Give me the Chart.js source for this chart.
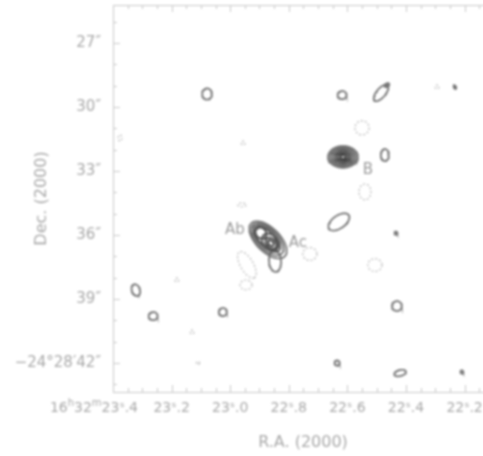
<!DOCTYPE html>
<html>
<head>
<meta charset="utf-8">
<script src="https://cdn.jsdelivr.net/npm/chart.js@4"></script>
<style>
html, body { margin: 0; padding: 0; background: #fff; overflow: hidden; }
#wrap { width: 500px; height: 456px; }
canvas { filter: blur(0.8px); }
</style>
</head>
<body>
<div id="wrap"><canvas id="map"></canvas></div>
<script>
// axis ticks (R.A. seconds of 16h32m, Dec arcsec of -24d28m)
const raTicks = [23.4, 23.2, 23.0, 22.8, 22.6, 22.4, 22.2];
const raTickLabels = ['16ʰ32ᵐ23ˢ.4', '23ˢ.2', '23ˢ.0', '22ˢ.8', '22ˢ.6', '22ˢ.4', '22ˢ.2'];
const raMinor = [23.35, 23.30, 23.25, 23.15, 23.10, 23.05, 22.95, 22.90, 22.85, 22.75, 22.70, 22.65,
                 22.55, 22.50, 22.45, 22.35, 22.30, 22.25, 22.15];
const decTicks = [27, 30, 33, 36, 39, 42];
const decTickLabels = ['27″', '30″', '33″', '36″', '39″', '−24°28′42″'];
const decMinor = [26, 28, 29, 31, 32, 34, 35, 37, 38, 40, 41, 43];

// contours: centre, semi-axes (arcsec), position angle on screen (deg), level (<0 = negative)
const cRA  = [23.079, 22.618, 22.485, 22.465, 22.233, 22.472,
              22.615, 22.615, 22.615, 22.615, 22.615, 22.615, 22.615,
              22.629,
              22.871, 22.873, 22.875, 22.878, 22.895, 22.863, 22.861, 22.861,
              22.847, 23.322, 23.263, 23.025, 22.431, 22.635, 22.420, 22.209, 22.434,
              22.550, 22.540, 22.728, 22.506, 22.943, 22.946, 22.960, 22.956, 23.376, 23.182, 23.130, 23.110, 22.294];
const cDec = [29.39, 29.44, 29.34, 28.97, 29.06, 32.25,
              32.34, 32.34, 32.34, 32.34, 32.34, 32.34, 32.34,
              35.39,
              36.23, 36.20, 36.17, 36.14, 35.91, 36.33, 36.38, 36.38,
              37.22, 38.58, 39.80, 39.61, 39.33, 42.00, 42.47, 42.42, 35.91,
              30.98, 33.98, 36.89, 37.41, 37.40, 38.34, 34.59, 31.69, 31.45, 38.11, 40.55, 42.00, 29.06];
const cMaj = [0.26, 0.21, 0.47, 0.12, 0.09, 0.28,
              0.70, 0.60, 0.50, 0.40, 0.31, 0.22, 0.12,
              0.56,
              1.10, 0.95, 0.80, 0.66, 0.28, 0.45, 0.30, 0.16,
              0.51, 0.28, 0.21, 0.19, 0.23, 0.12, 0.28, 0.07, 0.07,
              0.33, 0.37, 0.33, 0.33, 0.70, 0.28, 0.19, 0.09, 0.14, 0.09, 0.09, 0.07, 0.09];
const cMin = [0.23, 0.19, 0.21, 0.07, 0.05, 0.19,
              0.51, 0.44, 0.37, 0.29, 0.22, 0.15, 0.08,
              0.30,
              0.56, 0.48, 0.40, 0.33, 0.23, 0.32, 0.21, 0.11,
              0.28, 0.19, 0.19, 0.19, 0.23, 0.12, 0.14, 0.07, 0.07,
              0.33, 0.28, 0.30, 0.30, 0.30, 0.23, 0.09, 0.09, 0.09, 0.09, 0.09, 0.07, 0.09];
const cPA  = [90, 0, -50, -30, 60, 90,
              0, 0, 0, 0, 0, 0, 0,
              -35,
              45, 45, 45, 45, 45, 45, 45, 45,
              85, 70, 0, 0, 0, 0, -15, 0, 0,
              0, 90, 0, 0, 60, 0, 0, 0, 90, 0, 0, 0, 0];
const cLevel = [1, 1, 1, 1, 1, 1,
                1, 2, 3, 4, 5, 6, 7,
                1,
                1, 2, 3, 4, 5, 5, 6, 7,
                1, 1, 1, 1, 1, 1, 1, 1, 1,
                -1, -1, -1, -1, -1, -1, -1, -1, -1, -1, -1, -1, -1];

// source labels
const labelText = ['Ab', 'Ac', 'B'];
const labelRA = [22.984, 22.769, 22.530];
const labelDec = [35.77, 36.375, 32.95];

const RA_ARCSEC = 15 * Math.cos(24.475 * Math.PI / 180);

function outline(i) {
    const th = cPA[i] * Math.PI / 180;
    const pts = [];
    for (let k = 0; k <= 48; k++) {
        const t = k / 48 * 2 * Math.PI;
        const dx = cMaj[i] * Math.cos(t) * Math.cos(th) - cMin[i] * Math.sin(t) * Math.sin(th);
        const dy = cMaj[i] * Math.cos(t) * Math.sin(th) + cMin[i] * Math.sin(t) * Math.cos(th);
        pts.push({ x: cRA[i] - dx / RA_ARCSEC, y: cDec[i] + dy });
    }
    return pts;
}

const datasets = cRA.map((_, i) => {
    const neg = cLevel[i] < 0;
    const g = neg ? 175 : Math.max(60, 120 - cLevel[i] * 9);
    return {
        data: outline(i),
        showLine: true,
        pointRadius: 0,
        borderColor: `rgb(${g},${g},${g})`,
        borderWidth: neg ? 1.1 : 1.7,
        borderDash: neg ? [2, 2] : [],
        tension: 0
    };
});

// draw "16h32m23s.4" with small raised h / m, right end at xr
function drawLongLabel(ctx, text, xr, yc) {
    const parts = [];
    let buf = '';
    for (const ch of text) {
        if (ch === 'ʰ' || ch === 'ᵐ') {
            if (buf) parts.push([buf, false]);
            parts.push([ch === 'ʰ' ? 'h' : 'm', true]);
            buf = '';
        } else buf += ch;
    }
    if (buf) parts.push([buf, false]);
    const fontN = '14px "DejaVu Sans"', fontS = '10px "DejaVu Sans"';
    let w = 0;
    parts.forEach(([t, sup]) => { ctx.font = sup ? fontS : fontN; w += ctx.measureText(t).width; });
    let cx = xr - w;
    ctx.textAlign = 'left';
    parts.forEach(([t, sup]) => {
        ctx.font = sup ? fontS : fontN;
        ctx.fillText(t, cx, sup ? yc - 5 : yc);
        cx += ctx.measureText(t).width;
    });
}

const frameTicks = {
    id: 'frameTicks',
    afterDatasetsDraw(chart) {
        const { ctx, chartArea: a, scales: { x, y } } = chart;
        ctx.save();
        ctx.strokeStyle = '#c8c8c8';
        ctx.lineWidth = 1;
        ctx.strokeRect(a.left + 0.5, a.top + 0.5, a.right - a.left, a.bottom - a.top);
        ctx.beginPath();
        const tickX = (v, len) => {
            const px = Math.round(x.getPixelForValue(v)) + 0.5;
            ctx.moveTo(px, a.bottom); ctx.lineTo(px, a.bottom - len);
            ctx.moveTo(px, a.top); ctx.lineTo(px, a.top + len);
        };
        const tickY = (v, len) => {
            const py = Math.round(y.getPixelForValue(v)) + 0.5;
            ctx.moveTo(a.left, py); ctx.lineTo(a.left + len, py);
            ctx.moveTo(a.right, py); ctx.lineTo(a.right - len, py);
        };
        raTicks.forEach(v => tickX(v, 7));
        raMinor.forEach(v => tickX(v, 4));
        decTicks.forEach(v => tickY(v, 7));
        decMinor.forEach(v => tickY(v, 4));
        ctx.stroke();

        // R.A. tick labels: the first (full) label ends just right of its tick
        ctx.fillStyle = '#a8a8a8';
        ctx.textBaseline = 'middle';
        raTicks.forEach((v, i) => {
            const px = x.getPixelForValue(v);
            if (i === 0) {
                drawLongLabel(ctx, raTickLabels[0], px + 25, a.bottom + 16);
            } else {
                ctx.font = '14px "DejaVu Sans"';
                ctx.textAlign = 'center';
                ctx.fillText(raTickLabels[i], px, a.bottom + 16);
            }
        });

        ctx.fillStyle = '#9a9a9a';
        ctx.font = '15px "DejaVu Sans"';
        ctx.textAlign = 'center';
        labelText.forEach((t, i) => {
            ctx.fillText(t, x.getPixelForValue(labelRA[i]), y.getPixelForValue(labelDec[i]));
        });
        ctx.restore();
    }
};

const noPad = s => { s.paddingLeft = 0; s.paddingRight = 0; s.paddingTop = 0; s.paddingBottom = 0; };

new Chart(document.getElementById('map'), {
    type: 'scatter',
    data: { datasets },
    plugins: [frameTicks],
    options: {
        responsive: true,
        maintainAspectRatio: false,
        animation: false,
        layout: { padding: { left: 0, top: 5, right: 7, bottom: 0 } },
        plugins: { legend: { display: false }, tooltip: { enabled: false } },
        scales: {
            x: {
                type: 'linear',
                reverse: true,
                min: 22.103,
                max: 23.4,
                grid: { display: false, drawTicks: false },
                border: { display: false },
                afterFit: s => { s.height = 64; noPad(s); },
                afterBuildTicks: s => { s.ticks = raTicks.map(v => ({ value: v })); },
                ticks: { display: false },
                title: {
                    display: true,
                    text: 'R.A. (2000)',
                    color: '#a8a8a8',
                    font: { family: 'DejaVu Sans', size: 16 },
                    padding: { top: 0, bottom: 4 }
                }
            },
            y: {
                type: 'linear',
                reverse: true,
                min: 25.22,
                max: 43.36,
                grid: { display: false, drawTicks: false },
                border: { display: false },
                afterFit: s => { s.width = 113; noPad(s); },
                afterBuildTicks: s => { s.ticks = decTicks.map(v => ({ value: v })); },
                ticks: {
                    autoSkip: false,
                    padding: 12,
                    color: '#a8a8a8',
                    font: { family: 'DejaVu Sans', size: 15 },
                    callback: (v, i) => decTickLabels[i]
                },
                title: {
                    display: true,
                    text: 'Dec. (2000)',
                    color: '#a8a8a8',
                    font: { family: 'DejaVu Sans', size: 16 },
                    padding: { top: 32, bottom: 0 }
                }
            }
        }
    }
});
</script>
</body>
</html>
